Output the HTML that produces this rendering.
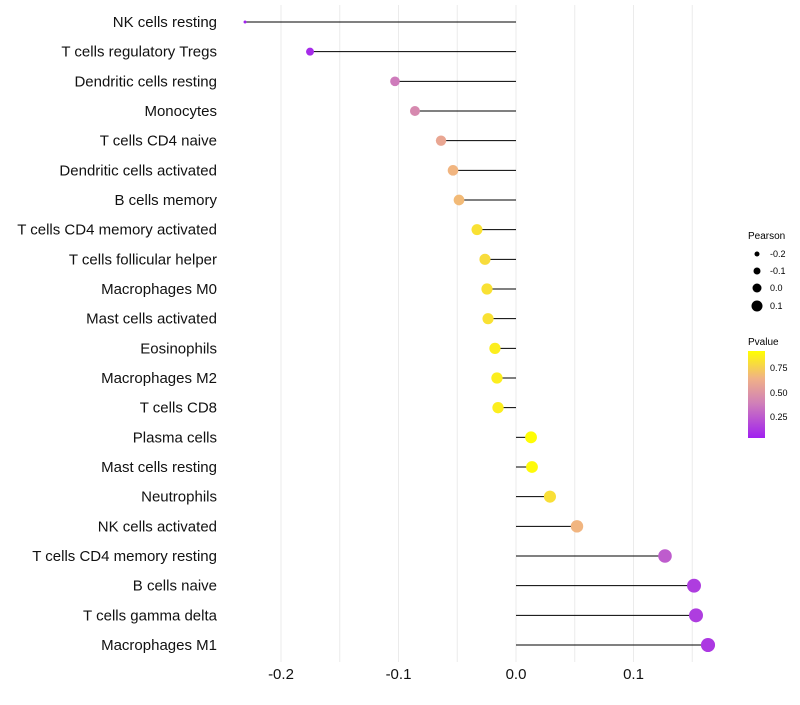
<!DOCTYPE html>
<html><head><meta charset="utf-8"><style>
body{margin:0;background:#fff;font-family:"Liberation Sans",sans-serif}
</style></head><body>
<svg id="chart" width="800" height="700" xmlns="http://www.w3.org/2000/svg">
<defs><linearGradient id="pg" x1="0" y1="1" x2="0" y2="0">
<stop offset="0" stop-color="#A020F0"/><stop offset="0.4" stop-color="#D080B8"/><stop offset="0.68" stop-color="#F0B088"/><stop offset="1" stop-color="#FFFF00"/></linearGradient></defs>
<g id="grid"></g>
<g id="marks"></g>
<g id="labels"></g>
<g id="xticks"></g>
<g font-size="9" fill="#000">
<text x="748" y="239" font-size="10">Pearson</text>
<circle cx="757" cy="254" r="2.5"/><text x="770" y="257">-0.2</text>
<circle cx="757" cy="271" r="3.5"/><text x="770" y="274">-0.1</text>
<circle cx="757" cy="288" r="4.5"/><text x="770" y="291">0.0</text>
<circle cx="757" cy="306" r="5.5"/><text x="770" y="309">0.1</text>
</g>
<g font-size="9" fill="#000">
<text x="748" y="345" font-size="10">Pvalue</text>
<rect x="748" y="351" width="17" height="87" fill="url(#pg)"/>
<text x="770" y="371">0.75</text>
<text x="770" y="396">0.50</text>
<text x="770" y="420">0.25</text>
</g>
</svg>
<script>
const categories=["NK cells resting","T cells regulatory  Tregs ","Dendritic cells resting","Monocytes","T cells CD4 naive","Dendritic cells activated","B cells memory","T cells CD4 memory activated","T cells follicular helper","Macrophages M0","Mast cells activated","Eosinophils","Macrophages M2","T cells CD8","Plasma cells","Mast cells resting","Neutrophils","NK cells activated","T cells CD4 memory resting","B cells naive","T cells gamma delta","Macrophages M1"];
const pearson=[-0.2306,-0.1753,-0.103,-0.086,-0.0638,-0.0536,-0.0485,-0.0332,-0.0264,-0.0247,-0.0238,-0.0179,-0.0162,-0.0153,0.0128,0.0136,0.0289,0.0519,0.1268,0.1515,0.1532,0.1634];
const pvalue=[0.01,0.05,0.38,0.45,0.62,0.7,0.72,0.88,0.86,0.88,0.88,0.93,0.93,0.93,0.99,0.98,0.87,0.7,0.25,0.12,0.12,0.1];
const xTicks=[-0.2,-0.1,0.0,0.1];
const xTickLabels=["-0.2","-0.1","0.0","0.1"];
const NS="http://www.w3.org/2000/svg";
const x=v=>516+v*1175;
const y=i=>22+i*(623/21);
const rad=v=>Math.sqrt(v>=-0.175?16+(v+0.175)*100:Math.max(2.25,16+(v+0.175)*250));
function col(p){const st=[[0,[160,32,240]],[0.4,[208,128,184]],[0.68,[240,176,136]],[1,[255,255,0]]];
for(let k=1;k<st.length;k++){if(p<=st[k][0]){const a=st[k-1],b=st[k],t=(p-a[0])/(b[0]-a[0]);return "rgb("+a[1].map((c,j)=>Math.round(c+(b[1][j]-c)*t)).join(",")+")";}}return "rgb(255,255,0)";}
function mk(t,a,parent){const e=document.createElementNS(NS,t);for(const k in a)e.setAttribute(k,a[k]);document.getElementById(parent).appendChild(e);return e;}
[-0.2,-0.15,-0.1,-0.05,0,0.05,0.1,0.15].forEach(v=>{const l=mk("line",{x1:x(v),x2:x(v),y1:5,y2:662,stroke:"#ebebeb","stroke-width":1},"grid");

});
categories.forEach((c,i)=>{
const l=mk("line",{x1:x(0),x2:x(pearson[i]),y1:y(i),y2:y(i),stroke:"#000","stroke-width":1},"marks");


const d=mk("circle",{cx:x(pearson[i]),cy:y(i),r:rad(pearson[i]),fill:col(pvalue[i])},"marks");


const t=mk("text",{x:217,y:y(i)+5,"text-anchor":"end","font-size":15,fill:"#111"},"labels");
t.textContent=c;

});
xTicks.forEach((v,i)=>{const t=mk("text",{x:x(v),y:679,"text-anchor":"middle","font-size":15,fill:"#111"},"xticks");
t.textContent=xTickLabels[i];

});
</script>
</body></html>
